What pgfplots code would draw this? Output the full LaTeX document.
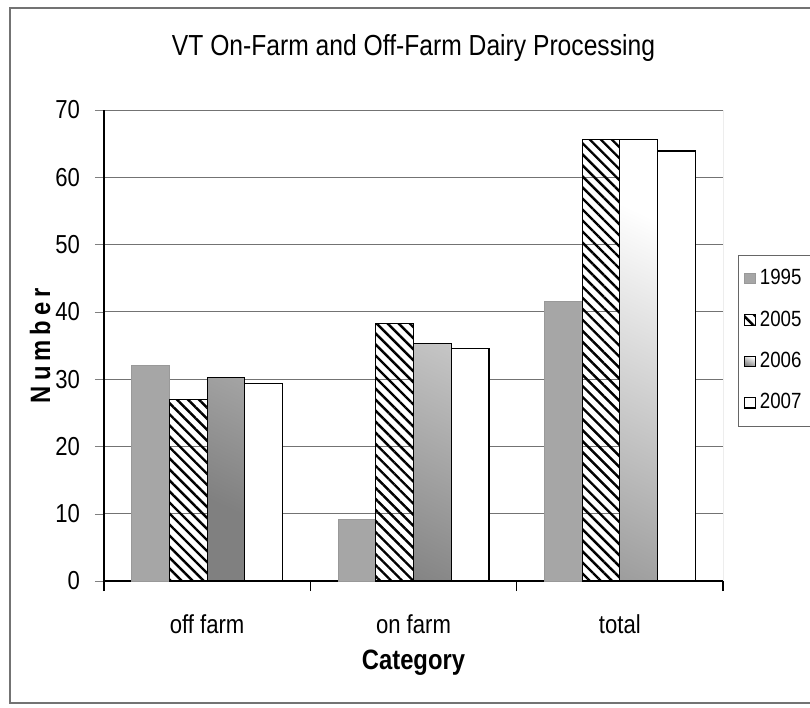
\documentclass[border=0pt]{standalone}
\usepackage{fontspec}
\setmainfont{Liberation Sans}[FakeStretch=0.85]
\usepackage{pgfplots}
\pgfplotsset{compat=1.18}
\usetikzlibrary{patterns.meta}
\pgfplotsset{sqlegend/.style={legend image code/.code={\draw[##1] (0pt,-2.6pt) rectangle (5.2pt,2.6pt);}}}
\begin{document}
\begin{tikzpicture}
\path[use as bounding box] (0,0) rectangle (405pt,354pt);
\draw[black!55, line width=0.8pt] (420pt,2.5pt) -- (5pt,2.5pt) -- (5pt,350pt) -- (420pt,350pt);
\begin{axis}[
  at={(52pt,63.5pt)}, anchor=south west,
  scale only axis, width=309.5pt, height=235.5pt,
  ybar=0pt, bar width=18.85pt,
  xmin=-0.5, xmax=2.5, ymin=0, ymax=70,
  xtick={0,1,2}, xticklabels={off farm,on farm,total},
  ytick={0,10,...,70},
  axis lines=left, axis line style={-, black, line width=0.7pt},
  ymajorgrids, grid style={black!55, line width=0.5pt},
  tick align=outside, major tick length=4.5pt,
  major x tick style={draw=none},
  extra x ticks={-0.5,0.5,1.5,2.5}, extra x tick labels={},
  extra x tick style={major x tick style={draw=black, line width=0.6pt}, major tick length=5pt},
  ticklabel style={font=\fontsize{13}{15}\selectfont},
  /pgf/number format/assume math mode=true,
  xticklabel style={yshift=-9pt},
  yticklabel style={xshift=-4pt},
  title={VT On-Farm and Off-Farm Dairy Processing},
  title style={at={(axis description cs:0.5,1.107)}, anchor=center, font=\fontsize{14.5}{17}\selectfont},
  xlabel={Category},
  xlabel style={at={(axis description cs:0.5,-0.173)}, anchor=center, font=\bfseries\fontsize{14}{16}\selectfont},
  ylabel={Number},
  ylabel style={at={(axis description cs:-0.1034,0.5)}, anchor=center, font=\bfseries\fontsize{14}{16}\selectfont\addfontfeatures{LetterSpace=18}},
  every axis plot post/.append style={sqlegend},
  legend style={at={(axis description cs:1.024,0.692)}, anchor=north west, draw=black!60,
    font=\fontsize{11}{13}\selectfont, row sep=7.5pt, inner xsep=3pt, inner ysep=5pt},
  legend cell align=left,
]
\addplot[fill=black!35, draw=black!40] coordinates {(0,32) (1,9.2) (2,41.5)};
\addplot[draw=black, line width=0.6pt, pattern={Lines[angle=-45,distance=3.9pt,line width=1.2pt]}, pattern color=black] coordinates {(0,27) (1,38.3) (2,65.6)};
\addplot[draw=black, line width=0.6pt, top color=white, bottom color=black!50, shading angle=-25] coordinates {(0,30.2) (1,35.3) (2,65.6)};
\addplot[draw=black, line width=0.6pt, fill=white] coordinates {(0,29.3) (1,34.6) (2,63.9)};
\legend{1995,2005,2006,2007}
\draw[black!55, line width=0.5pt] (rel axis cs:1,0) -- (rel axis cs:1,1);
\end{axis}
\end{tikzpicture}
\end{document}
